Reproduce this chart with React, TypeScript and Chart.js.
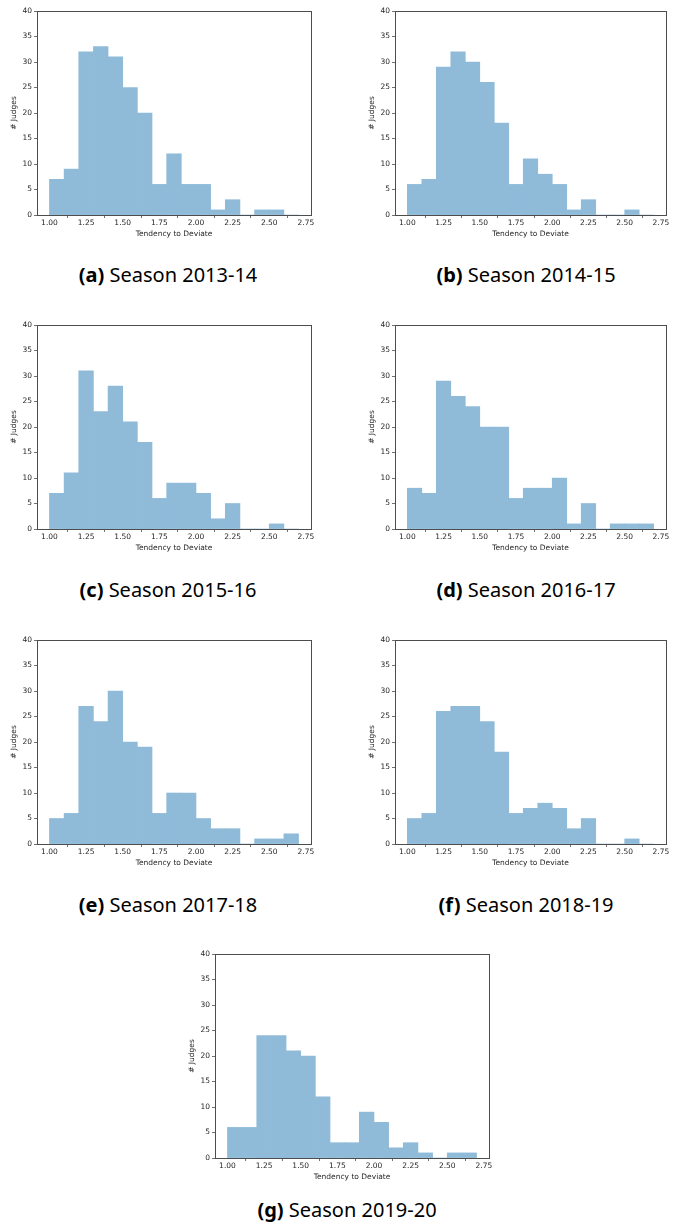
import React, { useEffect, useRef } from "react";
import { Chart, registerables } from "chart.js";

Chart.register(...registerables);

// Histogram bin edges (width 0.1) and tick labels
const BIN_EDGES = [1.0, 1.1, 1.2, 1.3, 1.4, 1.5, 1.6, 1.7, 1.8, 1.9, 2.0, 2.1, 2.2, 2.3, 2.4, 2.5, 2.6, 2.7];
const X_TICKS = [1.0, 1.25, 1.5, 1.75, 2.0, 2.25, 2.5, 2.75];
const Y_MAX = 40;

// Counts per bin (# Judges), one array per season
const SEASON_2013_14 = [7, 9, 32, 33, 31, 25, 20, 6, 12, 6, 6, 1, 3, 0, 1, 1, 0];
const SEASON_2014_15 = [6, 7, 29, 32, 30, 26, 18, 6, 11, 8, 6, 1, 3, 0, 0, 1, 0];
const SEASON_2015_16 = [7, 11, 31, 23, 28, 21, 17, 6, 9, 9, 7, 2, 5, 0, 0, 1, 0];
const SEASON_2016_17 = [8, 7, 29, 26, 24, 20, 20, 6, 8, 8, 10, 1, 5, 0, 1, 1, 1];
const SEASON_2017_18 = [5, 6, 27, 24, 30, 20, 19, 6, 10, 10, 5, 3, 3, 0, 1, 1, 2];
const SEASON_2018_19 = [5, 6, 26, 27, 27, 24, 18, 6, 7, 8, 7, 3, 5, 0, 0, 1, 0];
const SEASON_2019_20 = [6, 6, 24, 24, 21, 20, 12, 3, 3, 9, 7, 2, 3, 1, 0, 1, 1];

const X_TITLE = "Tendency to Deviate";
const Y_TITLE = "# Judges";

type PanelDef = {
  letter: string;
  label: string;
  counts: number[];
  left: number; // chart-area left (page px)
  top: number; // chart-area top (page px)
  width: number; // chart-area width
  capX: number;
  capY: number;
};

const PANELS: PanelDef[] = [
  { letter: "a", label: "Season 2013-14", counts: SEASON_2013_14, left: 37, top: 11, width: 274, capX: 168, capY: 275 },
  { letter: "b", label: "Season 2014-15", counts: SEASON_2014_15, left: 395, top: 11, width: 271, capX: 526, capY: 275 },
  { letter: "c", label: "Season 2015-16", counts: SEASON_2015_16, left: 37, top: 325, width: 274, capX: 168, capY: 590 },
  { letter: "d", label: "Season 2016-17", counts: SEASON_2016_17, left: 395, top: 325, width: 271, capX: 526, capY: 590 },
  { letter: "e", label: "Season 2017-18", counts: SEASON_2017_18, left: 37, top: 640, width: 274, capX: 168, capY: 905 },
  { letter: "f", label: "Season 2018-19", counts: SEASON_2018_19, left: 395, top: 640, width: 271, capX: 526, capY: 905 },
  { letter: "g", label: "Season 2019-20", counts: SEASON_2019_20, left: 215, top: 954, width: 274, capX: 347, capY: 1210 },
];

const AX_LEFT = 37;
const AX_TOP = 11;
const AX_H = 204;
const AX_RIGHT_PAD = 9;
const X_AXIS_H = 25;

const TICK_FONT = { family: "'DejaVu Sans', sans-serif", size: 7.5 };
const TEXT_COLOR = "#262626";
const SPINE_COLOR = "#4d4d4d";
const BAR_COLOR = "#8fbbd9";

const boxPlugin = {
  id: "spineBox",
  afterDatasetsDraw(chart: any) {
    const { ctx, chartArea } = chart;
    ctx.save();
    ctx.strokeStyle = SPINE_COLOR;
    ctx.lineWidth = 1;
    ctx.strokeRect(
      Math.round(chartArea.left) + 0.5,
      Math.round(chartArea.top) + 0.5,
      Math.round(chartArea.right - chartArea.left),
      Math.round(chartArea.bottom - chartArea.top)
    );
    ctx.restore();
  },
};

function Panel({ p }: { p: PanelDef }) {
  const ref = useRef<HTMLCanvasElement | null>(null);
  const cw = AX_LEFT + p.width + AX_RIGHT_PAD;
  const ch = AX_TOP + AX_H + X_AXIS_H;

  useEffect(() => {
    if (!ref.current) return;
    const points = p.counts.map((c, i) => ({ x: (BIN_EDGES[i] + BIN_EDGES[i + 1]) / 2, y: c }));
    const chart = new Chart(ref.current, {
      type: "bar",
      data: {
        datasets: [
          {
            data: points as any,
            backgroundColor: BAR_COLOR,
            borderWidth: 0,
            barPercentage: 1,
            categoryPercentage: 1,
          },
        ],
      },
      options: {
        responsive: false,
        animation: false,
        devicePixelRatio: 1,
        layout: { padding: { top: AX_TOP, right: AX_RIGHT_PAD, left: 0, bottom: 0 } },
        plugins: { legend: { display: false }, tooltip: { enabled: false } },
        scales: {
          x: {
            type: "linear",
            min: 0.915,
            max: 2.785,
            offset: false,
            afterBuildTicks: (s: any) => {
              s.ticks = X_TICKS.map((v) => ({ value: v }));
            },
            afterFit: (s: any) => {
              s.height = X_AXIS_H;
            },
            grid: { display: true, drawOnChartArea: false, drawTicks: true, tickLength: 3, color: SPINE_COLOR, lineWidth: 0.8 },
            border: { display: false },
            ticks: {
              font: TICK_FONT,
              color: TEXT_COLOR,
              padding: 1,
              maxRotation: 0,
              autoSkip: false,
              callback: (v: any) => Number(v).toFixed(2),
            },
            title: { display: true, text: X_TITLE, font: TICK_FONT, color: TEXT_COLOR, padding: { top: 0, bottom: 1 } },
          },
          y: {
            type: "linear",
            min: 0,
            max: Y_MAX,
            afterFit: (s: any) => {
              s.width = AX_LEFT;
            },
            grid: { display: true, drawOnChartArea: false, drawTicks: true, tickLength: 3, color: SPINE_COLOR, lineWidth: 0.8 },
            border: { display: false },
            ticks: { stepSize: 5, font: TICK_FONT, color: TEXT_COLOR, padding: 2 },
            title: { display: true, text: Y_TITLE, font: TICK_FONT, color: TEXT_COLOR, padding: { top: 10, bottom: 0 } },
          },
        },
      },
      plugins: [boxPlugin],
    });
    return () => chart.destroy();
  }, [p]);

  return (
    <>
      <canvas
        ref={ref}
        width={cw}
        height={ch}
        style={{ position: "absolute", left: p.left - AX_LEFT, top: p.top - AX_TOP, width: cw, height: ch }}
      />
      <div
        style={{
          position: "absolute",
          left: p.capX - 150,
          top: p.capY - 14,
          width: 300,
          height: 28,
          lineHeight: "28px",
          textAlign: "center",
          fontFamily: "'Noto Sans', sans-serif",
          fontSize: 20,
          color: "#000",
          whiteSpace: "nowrap",
        }}
      >
        <span style={{ fontWeight: 700 }}>({p.letter})</span> {p.label}
      </div>
    </>
  );
}

export default function App() {
  return (
    <div style={{ position: "absolute", left: 0, top: 0, width: 673, height: 1232, background: "#fff", overflow: "hidden" }}>
      {PANELS.map((p) => (
        <Panel key={p.letter} p={p} />
      ))}
    </div>
  );
}
